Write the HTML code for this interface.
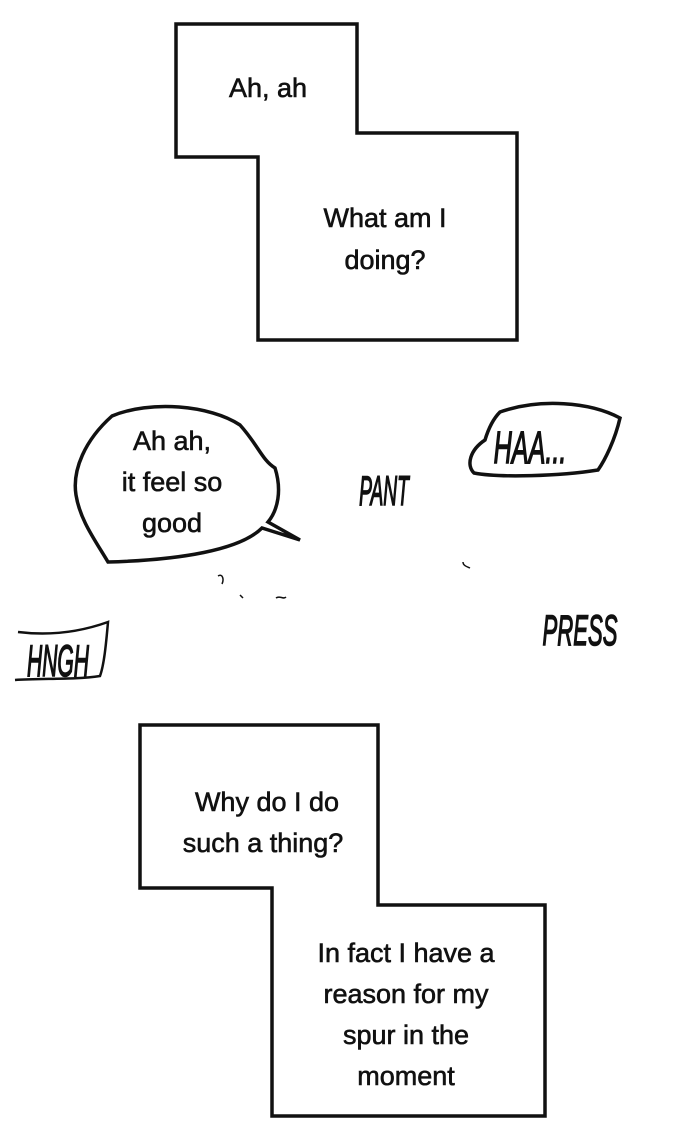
<!DOCTYPE html>
<html><head><style>
html,body{margin:0;padding:0;background:#fff;}
svg{display:block;}
text{font-family:"Liberation Sans",sans-serif;font-size:27px;fill:#111;stroke:#111;stroke-width:0.6;text-anchor:middle;}
.sfx{font-family:"Liberation Sans Narrow","Liberation Sans",sans-serif;font-style:italic;stroke-width:1.2;}
</style></head><body>
<svg width="690" height="1140" viewBox="0 0 690 1140" xmlns="http://www.w3.org/2000/svg">
<rect width="690" height="1140" fill="#fff"/>
<g fill="none" stroke="#111" stroke-width="3.5" stroke-linejoin="miter">
<polygon points="176,24 357,24 357,133 517,133 517,340 258,340 258,157 176,157"/>
<polygon points="140,725 378,725 378,905 545,905 545,1116 272,1116 272,888 140,888"/>
<path d="M112,416 C150,400 210,405 240,425 C258,445 262,460 275,468 C282,490 278,510 268,522 L300,540 L262,528 C240,550 180,560 108,562 C95,540 80,520 76,495 C72,470 85,440 112,416 Z"/>
<path d="M500,412 C540,398 590,402 620,418 C615,440 605,460 598,470 C560,476 500,478 474,473 C466,465 470,450 485,440 C488,430 492,420 500,412 Z"/>
<path d="M18,632 C50,636 80,632 108,622 C106,645 104,665 100,676 C75,680 40,678 15,680" stroke-width="2.5"/>
<path d="M218,576 c5,-3 6,4 4,8 M240,595 l3,3 M276,598 c4,-3 7,2 10,-1 M463,562 c0,4 5,5 7,6" stroke-width="1.5"/>
</g>
<text x="268" y="97">Ah, ah</text>
<text x="385" y="227">What am I</text>
<text x="385" y="269">doing?</text>
<text x="172" y="450">Ah ah,</text>
<text x="172" y="491">it feel so</text>
<text x="172" y="532">good</text>
<text class="sfx" transform="translate(530,463) scale(0.7,1.25)" style="font-size:36px">HAA...</text>
<text class="sfx" transform="translate(384,505) scale(0.6,1.3)" style="font-size:32px">PANT</text>
<text class="sfx" transform="translate(580,645) scale(0.65,1.25)" style="font-size:34px">PRESS</text>
<text class="sfx" transform="translate(58,676) scale(0.62,1.3)" style="font-size:34px">HNGH</text>
<text x="267" y="811">Why do I do</text>
<text x="263" y="852">such a thing?</text>
<text x="406" y="962">In fact I have a</text>
<text x="406" y="1003">reason for my</text>
<text x="406" y="1044">spur in the</text>
<text x="406" y="1085">moment</text>
</svg>
</body></html>
